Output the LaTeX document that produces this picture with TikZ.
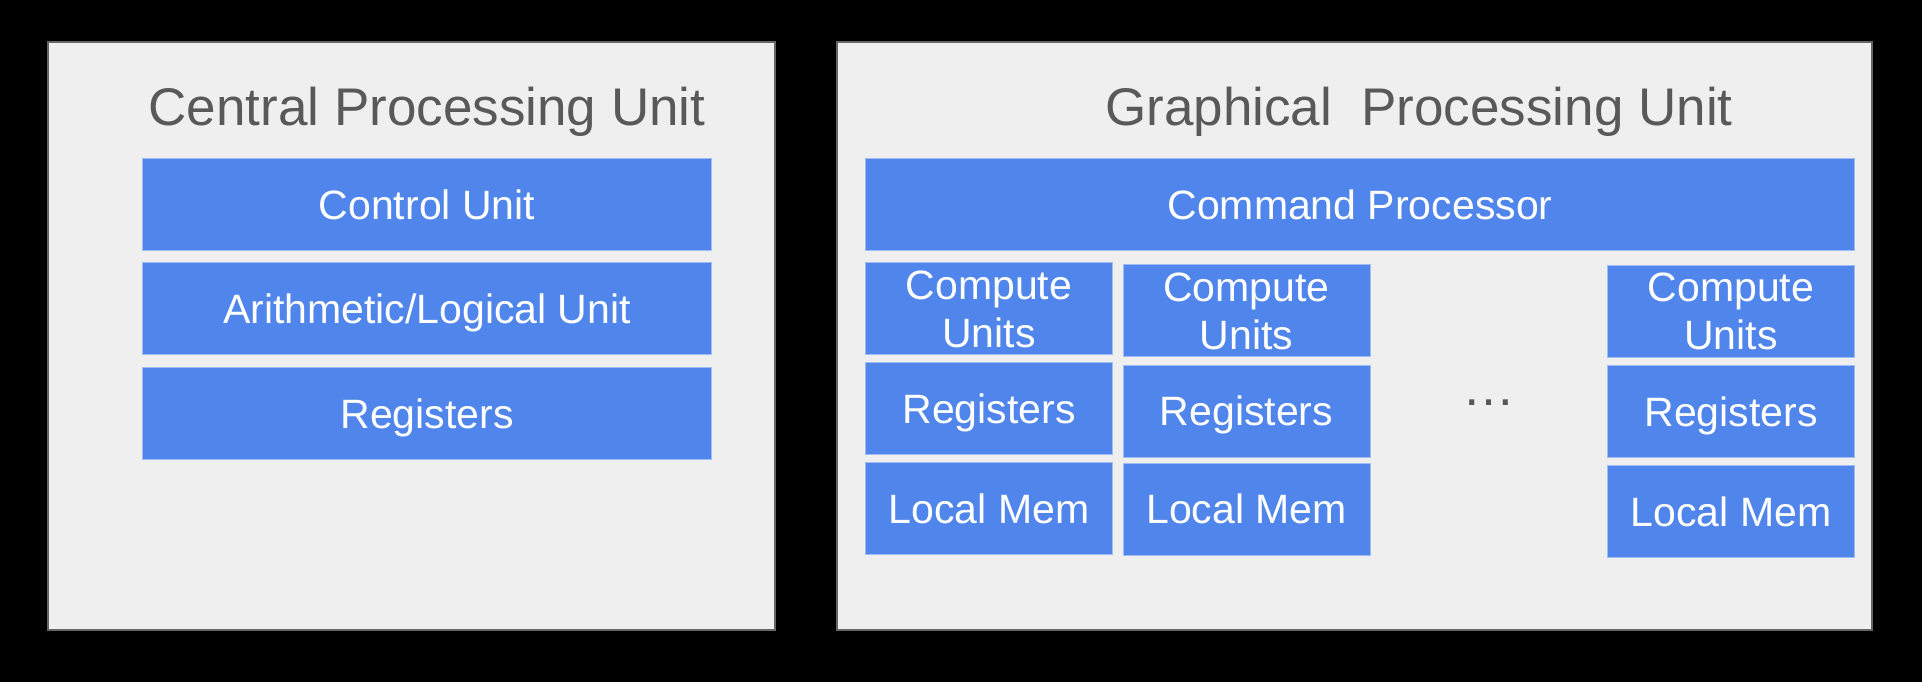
\documentclass[tikz,border=0pt]{standalone}
\usepackage{fontspec}
\setmainfont{Liberation Sans}
\usetikzlibrary{positioning}
\definecolor{mblue}{RGB}{80,134,236}
\definecolor{mpanel}{RGB}{239,239,239}
\definecolor{mtext}{RGB}{89,89,89}
\definecolor{medge}{RGB}{102,102,102}

\begin{document}
\begin{tikzpicture}[x=0.5pt, y=-0.5pt,
    panel/.style={draw=medge, line width=1pt, fill=mpanel, anchor=north west, inner sep=0pt, minimum height=294pt},
    heading/.style={text=mtext, font=\fontsize{26.5}{30}\selectfont, anchor=base, inner sep=0pt},
    unit/.style={draw=mblue!55!white, line width=0.5pt, fill=mblue, text=white, font=\fontsize{20.5}{24.2}\selectfont,
        minimum height=46pt, inner sep=0pt, align=center, text height=14.7pt, text depth=0pt},
    two_lines/.style={text height=38.9pt, text depth=0pt},
    cpu_unit/.style={unit, minimum width=284.5pt},
    gpu_unit/.style={unit, minimum width=123.5pt},
]
\fill[black] (0,0) rectangle (1922,682);
\useasboundingbox (0,0) rectangle (1922,682);

\node[panel, minimum width=363.5pt] (cpu) at (47,41) {};
\node[panel, minimum width=517.5pt] (gpu) at (836,41) {};

\node[heading] (cpu_title) at (427,125) {Central Processing Unit};
\node[heading] (gpu_title) at (1419,125) {Graphical\ \ Processing Unit};

% cpu
\node[cpu_unit, anchor=north west] (control) at (142,158) {Control Unit};
\node[cpu_unit, below=5.5pt of control] (alu) {Arithmetic/Logical Unit};
\node[cpu_unit, below=6pt of alu] (cpu_reg) {Registers};

% gpu
\node[unit, minimum width=494.5pt, anchor=north west] (cmd) at (865,158) {Command Processor};

\node[gpu_unit, two_lines, below=5.5pt of cmd.south west, anchor=north west] (cu1) {Compute\\Units};
\node[gpu_unit, below=3.5pt of cu1] (reg1) {Registers};
\node[gpu_unit, below=3.5pt of reg1] (mem1) {Local Mem};

\node[gpu_unit, two_lines, right=4.75pt of cu1, yshift=-1pt] (cu2) {Compute\\Units};
\node[gpu_unit, below=3.75pt of cu2] (reg2) {Registers};
\node[gpu_unit, below=2.5pt of reg2] (mem2) {Local Mem};

\node[gpu_unit, two_lines, below=6.75pt of cmd.south east, anchor=north east] (cu3) {Compute\\Units};
\node[gpu_unit, below=3.75pt of cu3] (reg3) {Registers};
\node[gpu_unit, below=3.5pt of reg3] (mem3) {Local Mem};

\path (reg2) -- node[heading, yshift=3pt] (dots) {…} (reg3);

\end{tikzpicture}
\end{document}
